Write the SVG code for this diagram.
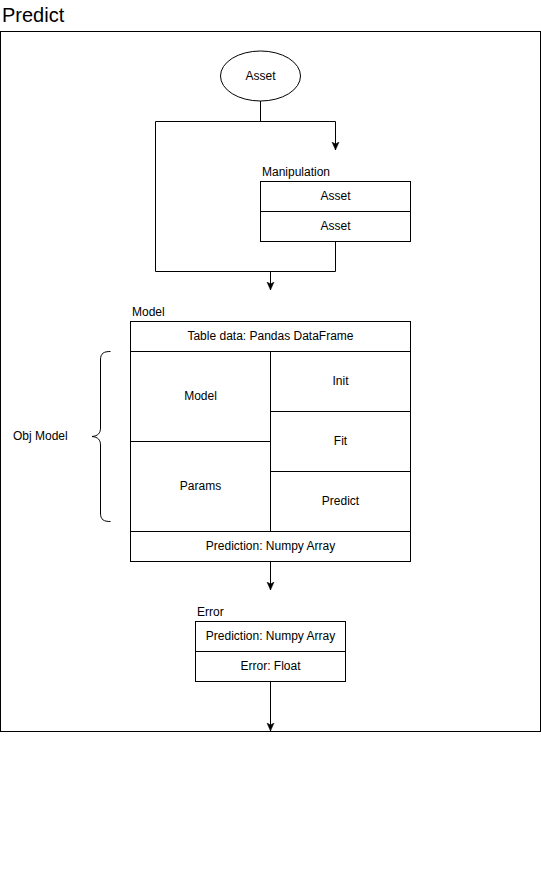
<svg xmlns="http://www.w3.org/2000/svg" width="541" height="883" viewBox="0 0 541 883">
<style>
text{font-family:"Liberation Sans",Arial,sans-serif;font-size:12px;fill:#000}
.c{text-anchor:middle}
.box{fill:#fff;stroke:#000;stroke-width:1}
.ln{fill:none;stroke:#000;stroke-width:1}
</style>
<defs>
<marker id="arr" markerUnits="userSpaceOnUse" markerWidth="10" markerHeight="10" refX="8" refY="4" orient="auto">
<path d="M0,0.5 L8,4 L0,7.5 L2,4 Z" fill="#000" stroke="#000" stroke-width="0.5"/>
</marker>
</defs>
<rect width="541" height="883" fill="#fff"/>
<g id="frame">
<text x="2" y="22" style="font-size:20px">Predict</text>
<rect x="0.5" y="31.5" width="540" height="700" class="ln"/>
</g>
<g id="connectors">
<path d="M260.5,101 V121.5" class="ln"/>
<path d="M155.5,121.5 H335.5 V150" class="ln" marker-end="url(#arr)"/>
<path d="M155.5,121.5 V271.5 H335.5 V241" class="ln"/>
<path d="M270.5,271.5 V290" class="ln" marker-end="url(#arr)"/>
<path d="M270.5,561 V590" class="ln" marker-end="url(#arr)"/>
<path d="M270.5,681 V731" class="ln" marker-end="url(#arr)"/>
</g>
<g id="asset">
<ellipse cx="260.5" cy="76" rx="40" ry="25" class="box"/>
<text x="260.5" y="80" class="c">Asset</text>
</g>
<g id="manipulation">
<text x="262" y="176">Manipulation</text>
<rect x="260.5" y="181.5" width="150" height="30" class="box"/>
<text x="335.5" y="200" class="c">Asset</text>
<rect x="260.5" y="211.5" width="150" height="30" class="box"/>
<text x="335.5" y="230" class="c">Asset</text>
</g>
<g id="model">
<text x="132" y="316">Model</text>
<rect x="130.5" y="321.5" width="280" height="30" class="box"/>
<text x="270.5" y="340" class="c">Table data: Pandas DataFrame</text>
<rect x="130.5" y="351.5" width="140" height="90" class="box"/>
<text x="200.5" y="400" class="c">Model</text>
<rect x="130.5" y="441.5" width="140" height="90" class="box"/>
<text x="200.5" y="490" class="c">Params</text>
<rect x="270.5" y="351.5" width="140" height="60" class="box"/>
<text x="340.5" y="385" class="c">Init</text>
<rect x="270.5" y="411.5" width="140" height="60" class="box"/>
<text x="340.5" y="445" class="c">Fit</text>
<rect x="270.5" y="471.5" width="140" height="60" class="box"/>
<text x="340.5" y="505" class="c">Predict</text>
<rect x="130.5" y="531.5" width="280" height="30" class="box"/>
<text x="270.5" y="550" class="c">Prediction: Numpy Array</text>
</g>
<g id="objmodel">
<path d="M110.5,351.5 C104,351.5 100.5,353 100.5,360 V428 C100.5,433 98,436 92,436.5 C98,437 100.5,440 100.5,445 V513 C100.5,520 104,521.5 110.5,521.5" class="ln"/>
<text x="13" y="440">Obj Model</text>
</g>
<g id="error">
<text x="197" y="616">Error</text>
<rect x="195.5" y="621.5" width="150" height="30" class="box"/>
<text x="270.5" y="640" class="c">Prediction: Numpy Array</text>
<rect x="195.5" y="651.5" width="150" height="30" class="box"/>
<text x="270.5" y="670" class="c">Error: Float</text>
</g>
</svg>
